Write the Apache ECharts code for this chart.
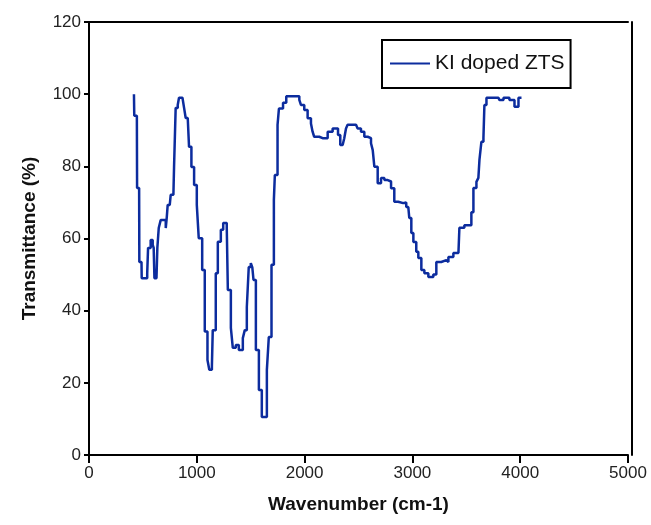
<!DOCTYPE html>
<html>
<head>
<meta charset="utf-8">
<script src="https://cdn.jsdelivr.net/npm/echarts@6/dist/echarts.min.js"></script>
<style>
  html, body { margin: 0; padding: 0; background: #fff; }
  #main { width: 651px; height: 525px; }
</style>
</head>
<body>
<div id="main"></div>
<script>
// wavenumber (cm-1)
const wavenumber = [417, 420, 444, 446, 465, 467, 487, 489, 507, 540, 548, 572, 591, 600, 607, 626, 634, 647, 665, 693,
  712, 721, 730, 749, 758, 783, 789, 804, 823, 835, 867, 882, 897, 916, 928, 950, 975, 1000, 1018, 1050,
  1074, 1099, 1116, 1140, 1148, 1176, 1195, 1223, 1245, 1260, 1278, 1288, 1316, 1334, 1362, 1390, 1427, 1445, 1464, 1482,
  1501, 1515, 1526, 1548, 1576, 1603, 1631, 1650, 1668, 1693, 1715, 1724, 1749, 1762, 1780, 1800, 1830, 1880, 1951, 1966,
  1997, 2028, 2059, 2074, 2089, 2136, 2167, 2214, 2260, 2291, 2310, 2331, 2353, 2368, 2384, 2399, 2477, 2492, 2523, 2554,
  2585, 2616, 2632, 2647, 2678, 2709, 2740, 2771, 2802, 2832, 2868, 2915, 2943, 2962, 2971, 2990, 3009, 3036, 3055, 3083,
  3111, 3148, 3194, 3222, 3268, 3315, 3334, 3380, 3427, 3436, 3482, 3519, 3547, 3566, 3594, 3612, 3622, 3640, 3659, 3668,
  3687, 3798, 3807, 3845, 3900, 3947, 3984, 4012]
// transmittance (%)
const transmittance = [100, 94, 94, 74, 74, 53.5, 53.5, 49, 49, 50.4, 57.4, 59.6, 58.2, 57.4, 49, 49, 57.4, 62.9, 65.1, 65.1,
  62.9, 65.7, 69.3, 69.8, 72.1, 72.1, 79.8, 96.2, 97, 99, 99, 96.2, 93.4, 93.4, 85.4, 79.8, 74.8, 69.3, 60.1, 51.3,
  34.2, 26.3, 23.6, 24.5, 34.6, 50.4, 59.1, 62.4, 64.3, 64.3, 62.9, 45.7, 35.2, 29.7, 30.5, 29.1, 32.4, 34.6, 41, 52.1,
  53.2, 52, 48.5, 29.1, 18, 10.5, 10.5, 23.6, 32.7, 52.7, 70.7, 77.6, 91.5, 96, 96, 97.6, 99.4, 99.4, 98.4, 97,
  95.6, 93.3, 91.9, 89.6, 88.2, 87.8, 87.8, 89.6, 90.5, 90.5, 88.7, 85.9, 85.9, 87.8, 90.5, 91.5, 91.5, 90.5, 89.6, 88.2,
  87.8, 86.4, 84.5, 79.9, 75.3, 76.8, 76.2, 75.8, 73.9, 70.2, 69.8, 70, 68.7, 68.5, 65.7, 61.5, 59, 56.3, 54.6, 51.3,
  50.4, 49.3, 50, 53.5, 54, 53.5, 54.9, 56, 56.3, 63, 63.7, 63.7, 67.3, 74, 75.7, 76.8, 81.8, 86.8, 87.9, 97,
  99, 99, 98.4, 99, 98.4, 96.5, 99, 99]
const seriesName = 'KI doped ZTS'

const chart = echarts.init(document.getElementById('main'))
const font = 'Liberation Sans, Arial, sans-serif'
const option = {
  animation: false,
  backgroundColor: '#fff',
  grid: { left: 89, right: 23, top: 22, bottom: 70 },
  legend: {
    data: [{ name: seriesName, icon: 'rect' }],
    left: 382,
    top: 40,
    itemWidth: 40,
    itemHeight: 2,
    itemGap: 4,
    padding: [13, 6, 14, 8],
    borderColor: '#000',
    borderWidth: 2,
    textStyle: { fontFamily: font, fontSize: 21, color: '#111', padding: [0, 0, 0, 0] }
  },
  xAxis: [{
    type: 'value',
    min: 0, max: 5000, interval: 1000,
    name: 'Wavenumber (cm-1)',
    nameLocation: 'middle',
    nameGap: 40,
    nameTextStyle: { fontFamily: font, fontSize: 19, fontWeight: 'bold', color: '#111' },
    axisLine: { lineStyle: { color: '#000', width: 2 } },
    axisTick: { length: 8, lineStyle: { color: '#000', width: 2 } },
    axisLabel: { fontFamily: font, fontSize: 17, color: '#222', margin: 10, formatter: v => String(v) },
    splitLine: { show: false }
  }, {
    type: 'value', position: 'top', min: 0, max: 5000,
    axisLine: { show: true, onZero: false, lineStyle: { color: '#000', width: 2 } },
    axisTick: { show: false }, axisLabel: { show: false }, splitLine: { show: false }
  }],
  yAxis: [{
    type: 'value',
    min: 0, max: 120, interval: 20,
    name: 'Transmittance (%)',
    nameLocation: 'middle',
    nameGap: 50,
    nameTextStyle: { fontFamily: font, fontSize: 19, fontWeight: 'bold', color: '#111' },
    axisLine: { lineStyle: { color: '#000', width: 2 } },
    axisTick: { length: 5, lineStyle: { color: '#000', width: 2 } },
    axisLabel: { fontFamily: font, fontSize: 17, color: '#222', margin: 8 },
    splitLine: { show: false }
  }, {
    type: 'value', position: 'right', offset: 4, min: 0, max: 120,
    axisLine: { show: true, onZero: false, lineStyle: { color: '#000', width: 2 } },
    axisTick: { show: false }, axisLabel: { show: false }, splitLine: { show: false }
  }],
  series: [{
    name: seriesName,
    type: 'line',
    step: 'end',
    data: wavenumber.map((w, i) => [w, transmittance[i]]),
    symbol: 'none',
    lineStyle: { color: '#0c2c9e', width: 2.5 },
    itemStyle: { color: '#0c2c9e' }
  }]
}
chart.setOption(option)
</script>
</body>
</html>
